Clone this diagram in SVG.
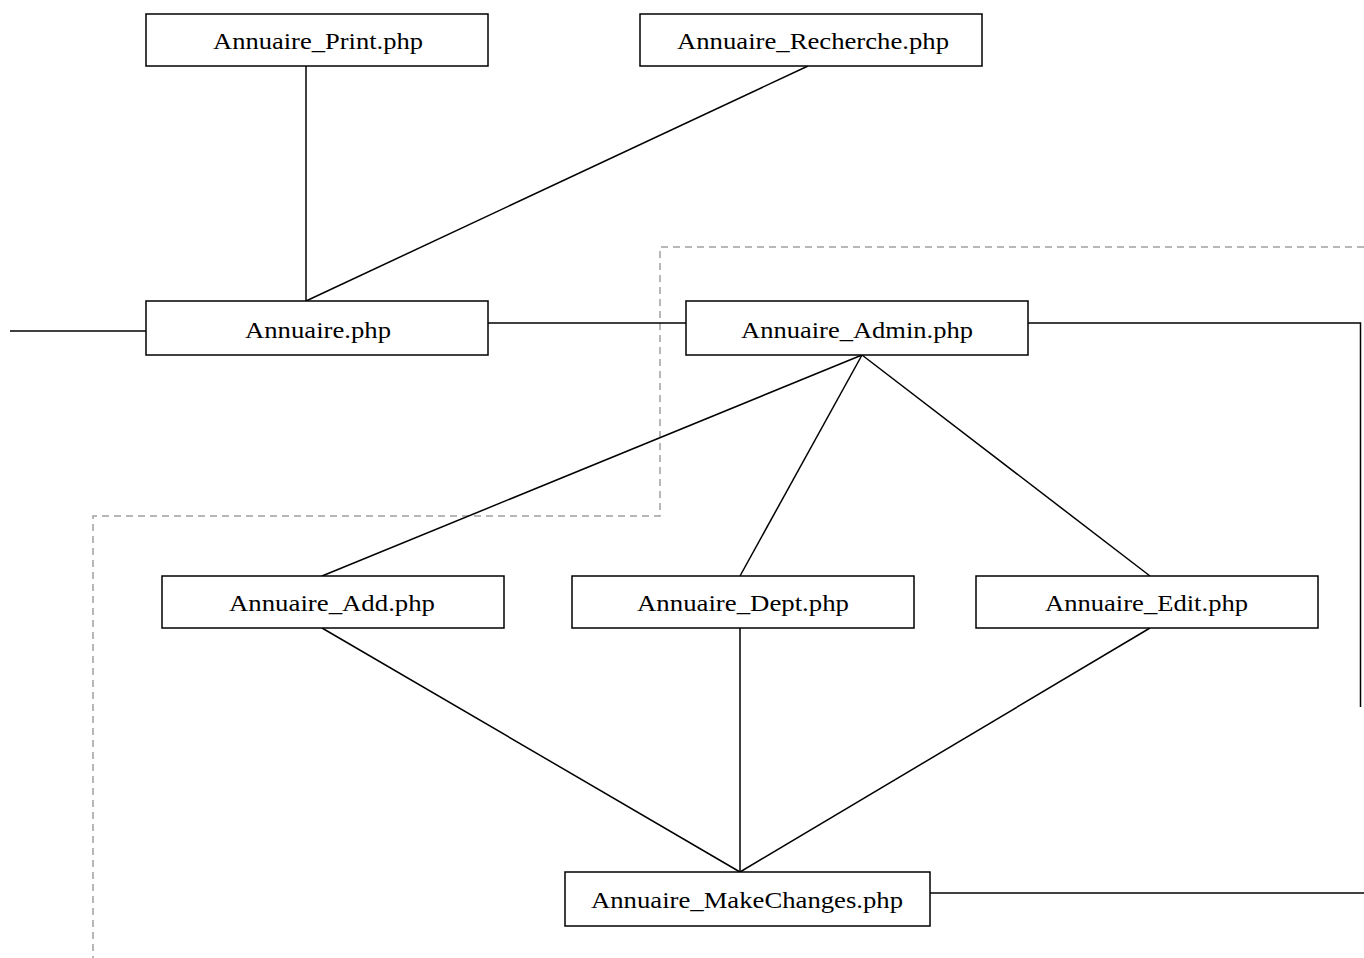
<svg xmlns="http://www.w3.org/2000/svg" width="1364" height="958" viewBox="0 0 1364 958">
<style>
.box{fill:#fff;stroke:#000;stroke-width:1.5}
.lbl{font-family:"Liberation Serif","Times New Roman",serif;font-size:24px;fill:#000;text-anchor:middle}
.ln{stroke:#000;stroke-width:1.5;fill:none}
.dash{stroke:#a0a0a0;stroke-width:1.5;fill:none;stroke-dasharray:7,5}
</style>
<rect width="1364" height="958" fill="#fff"/>
<g id="boundary">
<path class="dash" d="M1364,247 H660 V516 H93 V958"/>
</g>
<g id="connectors">
<line class="ln" x1="10" y1="331" x2="146" y2="331"/>
<line class="ln" x1="488" y1="323" x2="686" y2="323"/>
<line class="ln" x1="306" y1="66" x2="306" y2="301"/>
<line class="ln" x1="808" y1="66" x2="306" y2="301"/>
<polyline class="ln" points="1024,323 1360.5,323 1360.5,707"/>
<line class="ln" x1="862" y1="355" x2="322" y2="576"/>
<line class="ln" x1="862" y1="355" x2="740" y2="576"/>
<line class="ln" x1="862" y1="355" x2="1150" y2="576"/>
<line class="ln" x1="322" y1="628" x2="740" y2="872"/>
<line class="ln" x1="740" y1="628" x2="740" y2="872"/>
<line class="ln" x1="1150" y1="628" x2="740" y2="872"/>
<line class="ln" x1="930" y1="893" x2="1364" y2="893"/>
</g>
<g id="print"><rect class="box" x="146" y="14" width="342" height="52"/><text class="lbl" x="318" y="49" textLength="210" lengthAdjust="spacingAndGlyphs">Annuaire_Print.php</text></g>
<g id="recherche"><rect class="box" x="640" y="14" width="342" height="52"/><text class="lbl" x="813" y="49" textLength="272" lengthAdjust="spacingAndGlyphs">Annuaire_Recherche.php</text></g>
<g id="annuaire"><rect class="box" x="146" y="301" width="342" height="54"/><text class="lbl" x="318" y="338" textLength="146" lengthAdjust="spacingAndGlyphs">Annuaire.php</text></g>
<g id="admin"><rect class="box" x="686" y="301" width="342" height="54"/><text class="lbl" x="857" y="338" textLength="232" lengthAdjust="spacingAndGlyphs">Annuaire_Admin.php</text></g>
<g id="add"><rect class="box" x="162" y="576" width="342" height="52"/><text class="lbl" x="332" y="611" textLength="206" lengthAdjust="spacingAndGlyphs">Annuaire_Add.php</text></g>
<g id="dept"><rect class="box" x="572" y="576" width="342" height="52"/><text class="lbl" x="743" y="611" textLength="212" lengthAdjust="spacingAndGlyphs">Annuaire_Dept.php</text></g>
<g id="edit"><rect class="box" x="976" y="576" width="342" height="52"/><text class="lbl" x="1146.5" y="611" textLength="203" lengthAdjust="spacingAndGlyphs">Annuaire_Edit.php</text></g>
<g id="makechanges"><rect class="box" x="565" y="872" width="365" height="54"/><text class="lbl" x="747" y="908" textLength="312" lengthAdjust="spacingAndGlyphs">Annuaire_MakeChanges.php</text></g>
</svg>
